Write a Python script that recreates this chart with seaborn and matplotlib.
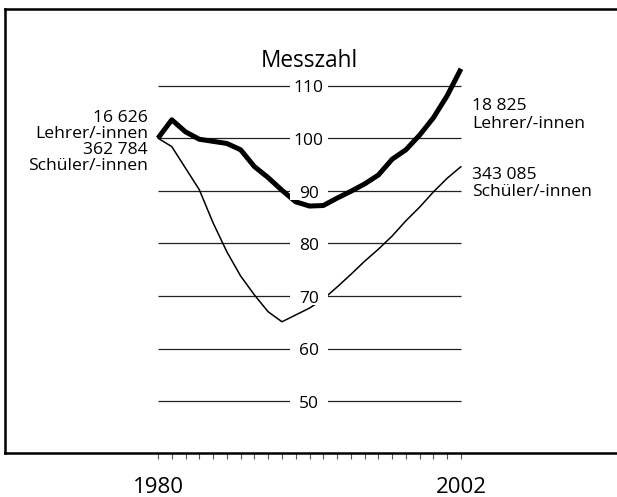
import matplotlib
matplotlib.use("Agg")
import matplotlib.pyplot as plt
import seaborn as sns
from matplotlib.patches import Rectangle

# Messzahl 1980 = 100
years = list(range(1980, 2003))
lehrer = [100, 103.5, 101.2, 99.8, 99.4, 99.0, 97.8, 94.6, 92.5, 90.1, 87.9, 87.1,
          87.2, 88.6, 89.9, 91.3, 93.0, 96.0, 97.8, 100.6, 103.9, 108.1, 113.2]
schueler = [100, 98.4, 94.3, 90.2, 83.9, 78.4, 73.8, 70.2, 67.0, 65.1, 66.4, 67.7,
            69.4, 71.7, 74.1, 76.6, 78.9, 81.4, 84.3, 86.9, 89.8, 92.4, 94.6]
y_ticks = [50, 60, 70, 80, 90, 100, 110]
year_labels = [1980, 2002]

left_labels = ["16 626", "Lehrer/-innen", "362 784", "Schüler/-innen"]
right_labels = ["18 825", "Lehrer/-innen", "343 085", "Schüler/-innen"]

W, H = 617, 497

sns.set_theme(style="white")
plt.rcParams['font.family'] = ['Open Sans', 'DejaVu Sans']

fig = plt.figure(figsize=(W / 100, H / 100), dpi=100)

# Achsen in Pixeln (Rahmen)
ax_left, ax_top, ax_bottom = 5, 9, 453
ax = fig.add_axes([ax_left / W, 1 - ax_bottom / H, 1 - ax_left / W, (ax_bottom - ax_top) / H])

# Skalierung: 1980 -> x=158, 2002 -> x=461; 100 -> y=138.2, 5.26 px je Einheit
px_year = (461 - 158) / 22
px_unit = 5.26
ax.set_xlim(1980 - (158 - ax_left) / px_year, 1980 + (W - 158) / px_year)
ax.set_ylim(100 - (ax_bottom - 138.2) / px_unit, 100 + (138.2 - ax_top) / px_unit)

for side in ["left", "top", "bottom"]:
    ax.spines[side].set_linewidth(1.8)
    ax.spines[side].set_color("black")
ax.spines["right"].set_visible(False)

ax.set_xticks(years)
ax.set_yticks([])
ax.tick_params(axis="x", direction="out", length=4.5, width=0.8, color="#555555",
               labelbottom=False, bottom=True)

# Gitterlinien
ax.hlines(y_ticks, years[0], years[-1], color="#222222", linewidth=0.9, zorder=1)

sns.lineplot(x=years, y=lehrer, color="black", linewidth=3.6, ax=ax, zorder=2,
             solid_joinstyle="round", solid_capstyle="butt")
sns.lineplot(x=years, y=schueler, color="black", linewidth=1.1, ax=ax, zorder=2)

# Beschriftung der Messzahlen mit weissem Hintergrund
gap_left = 1980 + (290 - 158) / px_year
gap_right = 1980 + (328 - 158) / px_year
label_x = 1980 + (308.8 - 158) / px_year
for v in y_ticks:
    ax.add_patch(Rectangle((gap_left, v - 9 / px_unit), gap_right - gap_left, 18 / px_unit,
                           facecolor="white", edgecolor="none", zorder=3))
    ax.annotate(str(v), xy=(label_x, v), xytext=(0, -6.7 * 0.72), textcoords="offset points",
                ha="center", va="baseline", fontsize=12.5, color="black", zorder=4)


def ftext(x, y, s, **kw):
    fig.text(x / W, 1 - y / H, s, va="baseline", color="black", **kw)


ftext(309.5, 66.7, "Messzahl", ha="center", fontsize=16.3)

for y, s in zip([122, 138.5, 154, 170], left_labels):
    ftext(148, y, s, ha="right", fontsize=12.6)
for y, s in zip([110, 127.5, 179, 196], right_labels):
    ftext(472, y, s, ha="left", fontsize=12.6)

for yr in year_labels:
    ftext(158 + (yr - 1980) * px_year, 493, str(yr), ha="center", fontsize=16)

plt.savefig("out.png", dpi=100)
